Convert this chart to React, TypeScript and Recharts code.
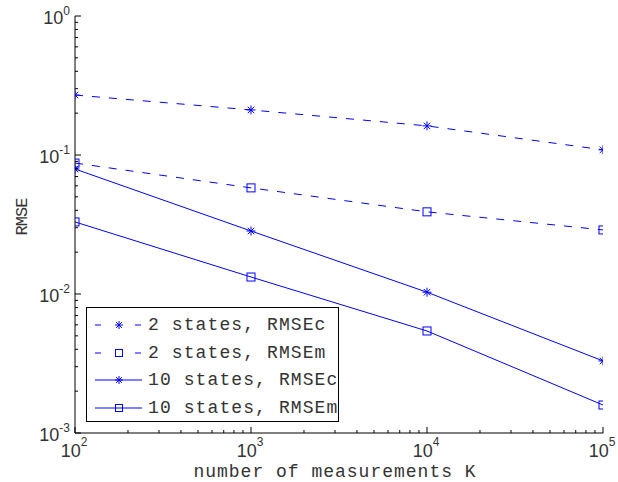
import { Legend, Line, LineChart, XAxis, YAxis } from 'recharts'

const measurements = [100, 1000, 10000, 100000]
const rmseC2 = [0.27, 0.211, 0.162, 0.109]
const rmseM2 = [0.0875, 0.058, 0.039, 0.0289]
const rmseC10 = [0.0793, 0.0284, 0.0103, 0.0033]
const rmseM10 = [0.033, 0.01325, 0.00542, 0.00159]

const xDecades = [100, 1000, 10000, 100000]
const yDecades = [0.001, 0.01, 0.1, 1]
const minorSteps = [2, 3, 4, 5, 6, 7, 8, 9]

const seriesNames = ['2 states, RMSEc', '2 states, RMSEm', '10 states, RMSEc', '10 states, RMSEm']

const BLUE = '#0000ff'
const TEXT = '#333333'
const MONO = '"Liberation Mono", "DejaVu Sans Mono", monospace'
const SANS = '"Liberation Sans", Arial, sans-serif'

const withMinors = (decades: number[]) => {
  const out: number[] = []
  decades.forEach((d, i) => {
    out.push(d)
    if (i < decades.length - 1) minorSteps.forEach((m) => out.push(d * m))
  })
  return out
}
const xTicks = withMinors(xDecades)
const yTicks = withMinors(yDecades)
const isMajor = (v: number, decades: number[]) => decades.includes(v)
const expOf = (v: number) => String(Math.round(Math.log10(v)))

const toPoints = (ys: number[]) => measurements.map((x, i) => ({ x, y: ys[i] }))

function Star({ cx, cy, r = 4.5 }: { cx: number; cy: number; r?: number }) {
  const d = r * 0.72
  return (
    <g stroke={BLUE} strokeWidth={1} fill="none">
      <line x1={cx - r} y1={cy} x2={cx + r} y2={cy} />
      <line x1={cx} y1={cy - r} x2={cx} y2={cy + r} />
      <line x1={cx - d} y1={cy - d} x2={cx + d} y2={cy + d} />
      <line x1={cx - d} y1={cy + d} x2={cx + d} y2={cy - d} />
    </g>
  )
}

function Square({ cx, cy, s = 8 }: { cx: number; cy: number; s?: number }) {
  return <rect x={cx - s / 2} y={cy - s / 2} width={s} height={s} stroke={BLUE} strokeWidth={1} fill="none" />
}

const starDot = (p: any) => <Star key={`st-${p.index}`} cx={p.cx} cy={p.cy} />
const squareDot = (p: any) => <Square key={`sq-${p.index}`} cx={p.cx} cy={p.cy} />

const MAJOR = 6
const MINOR = 3

function BottomTick({ x, y, payload }: any) {
  const major = isMajor(payload.value, xDecades)
  return (
    <g>
      <line x1={x} y1={y} x2={x} y2={y - (major ? MAJOR : MINOR)} stroke="#000" />
      {major && (
        <text x={x - 1} y={y + 24} textAnchor="middle" fontFamily={SANS} fontSize={18} fill={TEXT}>
          <tspan>10</tspan>
          <tspan dy={-11} fontSize={12}>{expOf(payload.value)}</tspan>
        </text>
      )}
    </g>
  )
}

function TopTick({ x, y, payload }: any) {
  const major = isMajor(payload.value, xDecades)
  return <line x1={x} y1={y} x2={x} y2={y + (major ? MAJOR : MINOR)} stroke="#000" />
}

function LeftTick({ x, y, payload }: any) {
  const major = isMajor(payload.value, yDecades)
  return (
    <g>
      <line x1={x} y1={y} x2={x + (major ? MAJOR : MINOR)} y2={y} stroke="#000" />
      {major && (
        <text x={x - 5} y={y + 7.5} textAnchor="end" fontFamily={SANS} fontSize={18} fill={TEXT}>
          <tspan>10</tspan>
          <tspan dy={-9} fontSize={12}>{expOf(payload.value)}</tspan>
        </text>
      )}
    </g>
  )
}

function RightTick({ x, y, payload }: any) {
  const major = isMajor(payload.value, yDecades)
  return <line x1={x} y1={y} x2={x - (major ? MAJOR : MINOR)} y2={y} stroke="#000" />
}

function LegendBox() {
  const rowTops = [17, 45, 72, 100]
  return (
    <div
      style={{
        position: 'relative',
        width: 253,
        height: 115,
        boxSizing: 'border-box',
        border: '1.5px solid #000',
        background: '#fff',
      }}
    >
      {seriesNames.map((name, i) => {
        const dashed = i < 2
        const star = i % 2 === 0
        return (
          <div key={name} style={{ position: 'absolute', left: 0, top: rowTops[i] - 10, height: 20, width: 251 }}>
            <svg width={60} height={20} style={{ position: 'absolute', left: 0, top: 0 }}>
              {dashed ? (
                <g stroke={BLUE} strokeWidth={1}>
                  <line x1={8} y1={10} x2={14} y2={10} />
                  <line x1={48} y1={10} x2={54} y2={10} />
                </g>
              ) : (
                <line x1={8} y1={10} x2={55} y2={10} stroke={BLUE} strokeWidth={1} />
              )}
              {star ? <Star cx={32} cy={10} r={4} /> : <Square cx={32} cy={10} s={7} />}
            </svg>
            <span
              style={{
                position: 'absolute',
                left: 61,
                top: 0,
                lineHeight: '20px',
                fontFamily: MONO,
                fontSize: 18,
                letterSpacing: 1.1,
                color: TEXT,
                whiteSpace: 'nowrap',
              }}
            >
              {name}
            </span>
          </div>
        )
      })}
    </div>
  )
}

export default function App() {
  return (
    <div style={{ position: 'absolute', left: 0, top: 0, background: '#fff' }}>
      <LineChart width={618} height={482} margin={{ top: 16, right: 15, bottom: 0, left: 0 }}>
        <XAxis
          dataKey="x"
          type="number"
          scale="log"
          domain={[100, 100000]}
          allowDataOverflow
          ticks={xTicks}
          interval={0}
          tick={<BottomTick />}
          tickLine={false}
          tickSize={0}
          tickMargin={0}
          height={49}
          axisLine={{ stroke: '#000', strokeWidth: 1 }}
        />
        <XAxis
          xAxisId="top"
          orientation="top"
          dataKey="x"
          type="number"
          scale="log"
          domain={[100, 100000]}
          allowDataOverflow
          ticks={xTicks}
          interval={0}
          tick={<TopTick />}
          tickLine={false}
          tickSize={0}
          tickMargin={0}
          height={0}
          axisLine={{ stroke: '#000', strokeWidth: 1 }}
        />
        <YAxis
          type="number"
          scale="log"
          domain={[0.001, 1]}
          allowDataOverflow
          ticks={yTicks}
          interval={0}
          tick={<LeftTick />}
          tickLine={false}
          tickSize={0}
          tickMargin={0}
          width={75}
          axisLine={{ stroke: '#000', strokeWidth: 1 }}
        />
        <YAxis
          yAxisId="right"
          orientation="right"
          type="number"
          scale="log"
          domain={[0.001, 1]}
          allowDataOverflow
          ticks={yTicks}
          interval={0}
          tick={<RightTick />}
          tickLine={false}
          tickSize={0}
          tickMargin={0}
          width={0}
          axisLine={{ stroke: '#000', strokeWidth: 1 }}
        />
        <Line data={toPoints(rmseC2)} dataKey="y" name={seriesNames[0]} stroke={BLUE} strokeWidth={1} strokeDasharray="8 9" dot={starDot} isAnimationActive={false} />
        <Line data={toPoints(rmseM2)} dataKey="y" name={seriesNames[1]} stroke={BLUE} strokeWidth={1} strokeDasharray="8 9" dot={squareDot} isAnimationActive={false} />
        <Line data={toPoints(rmseC10)} dataKey="y" name={seriesNames[2]} stroke={BLUE} strokeWidth={1} dot={starDot} isAnimationActive={false} />
        <Line data={toPoints(rmseM10)} dataKey="y" name={seriesNames[3]} stroke={BLUE} strokeWidth={1} dot={squareDot} isAnimationActive={false} />
        <Legend
          layout="vertical"
          align="center"
          verticalAlign="middle"
          content={() => <LegendBox />}
          wrapperStyle={{ left: 86, top: 307, width: 253, height: 115 }}
        />
        <text x={335} y={477} textAnchor="middle" fontFamily={MONO} fontSize={18} letterSpacing={1} fill={TEXT}>
          number of measurements K
        </text>
        <text
          x={27}
          y={217}
          transform="rotate(-90 27 217)"
          textAnchor="middle"
          fontFamily={MONO}
          fontSize={17}
          letterSpacing={-1}
          fill={TEXT}
        >
          RMSE
        </text>
      </LineChart>
    </div>
  )
}
